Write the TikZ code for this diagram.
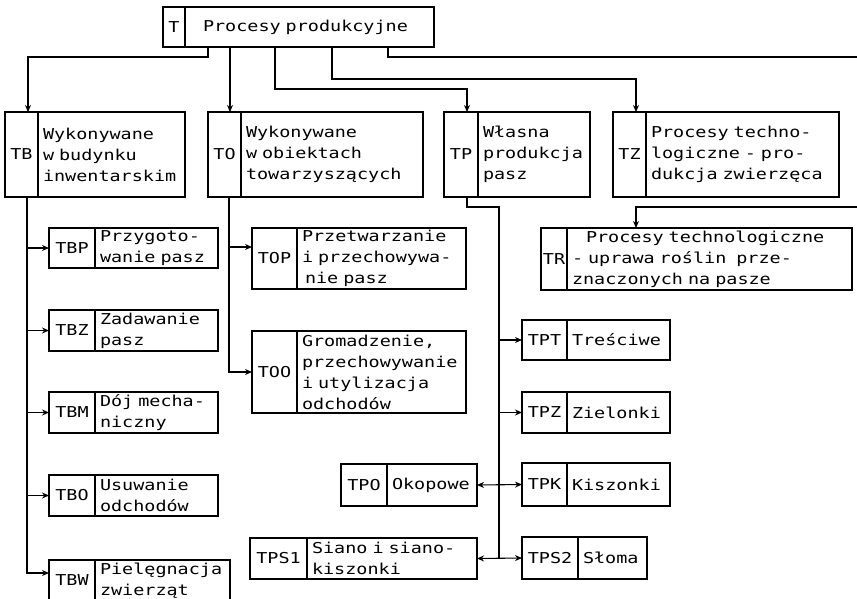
\documentclass[tikz,border=0pt]{standalone}
\usepackage{fontspec}
\newfontfamily\twfont{DejaVu Sans Mono}[FakeStretch=1.23]
\newcommand\twsel{\twfont\fontsize{15}{21}\selectfont\spaceskip=11.1pt\relax\xspaceskip=11.1pt\relax}
\usetikzlibrary{arrows.meta,calc}
\newcommand\bx[8]{%
 \pgfmathsetmacro\bxcw{#3-#2}%
 \pgfmathsetmacro\bxtw{#4-#3-10}%
 \pgfmathsetmacro\bxh{#6-#5}%
 \node[codebox,minimum width=\bxcw pt,minimum height=\bxh pt] (#1c) at (#2,#5) {#7};
 \node[textbox,text width=\bxtw pt,minimum height=\bxh pt] (#1) at (#3,#5) {#8};
}
\tikzset{
 base/.style={draw,line width=1.1pt,anchor=north west,outer sep=0pt,font=\twsel},
 codebox/.style={base,inner sep=0pt,align=center},
 textbox/.style={base,inner xsep=5pt,inner ysep=0pt,align=left},
 conn/.style={line width=1.1pt},
 arr/.style={conn,-{Stealth[length=7pt,width=6pt]}},
 arr2/.style={conn,{Stealth[length=7pt,width=6pt]}-{Stealth[length=7pt,width=6pt]}},
}
\begin{document}
\begin{tikzpicture}[x=1pt,y=-1pt]
\fill[white] (0,0) rectangle (857,598);
\useasboundingbox (0,0) rectangle (857,598);
\clip (0,0) rectangle (857,598);
% boxes
\bx{T}{163}{185}{434}{7}{47}{T}{\hspace*{13pt}Procesy produkcyjne}
\bx{TB}{5}{38}{185}{112}{197}{TB}{Wykonywane\\w budynku\\inwentarskim}
\bx{TO}{208}{241}{423}{112}{197}{TO}{Wykonywane\\w obiektach\\towarzyszących}
\bx{TP}{444}{478}{590}{112}{197}{TP}{Własna\\produkcja\\pasz}
\bx{TZ}{613}{646}{839}{112}{197}{TZ}{Procesy techno-\\logiczne - pro-\\dukcja zwierzęca}
\bx{TR}{541}{567}{852}{228}{290}{TR}{\hspace*{14pt}Procesy technologiczne\\- uprawa roślin\ \ prze-\\znaczonych na pasze}
\bx{TBP}{49}{95}{218}{228}{268}{TBP}{Przygoto-\\wanie pasz}
\bx{TBZ}{49}{95}{218}{310}{351}{TBZ}{Zadawanie\\pasz}
\bx{TBM}{49}{95}{218}{392}{433}{TBM}{Dój mecha-\\niczny}
\bx{TBO}{49}{95}{218}{475}{516}{TBO}{Usuwanie\\odchodów}
\bx{TBW}{49}{95}{230}{560}{601}{TBW}{Pielęgnacja\\zwierząt}
\bx{TOP}{252}{297}{466}{228}{289}{TOP}{Przetwarzanie\\i przechowywa-\\\hspace*{3pt}nie pasz}
\bx{TOO}{252}{297}{466}{331}{413}{TOO}{Gromadzenie,\\przechowywanie\\i utylizacja\\odchodów}
\bx{TPT}{522}{567}{670}{320}{360}{TPT}{Treściwe}
\bx{TPZ}{522}{567}{670}{392}{433}{TPZ}{Zielonki}
\bx{TPK}{522}{567}{670}{463}{506}{TPK}{Kiszonki}
\bx{TPS2}{522}{578}{647}{537}{579}{TPS2}{Słoma}
\bx{TPO}{341}{387}{477}{464}{506}{TPO}{Okopowe}
\bx{TPS1}{250}{307}{477}{538}{579}{TPS1}{Siano i siano-\\kiszonki}
% top connectors
\coordinate (e1) at (857,57);
\coordinate (e2) at (857,207);
\draw[arr] ([xshift=23pt]T.south west) -- ++(0,10) -| ([xshift=23pt]TBc.north west);
\draw[arr] ([xshift=45pt]T.south west) -- ([xshift=22pt]TOc.north west);
\draw[arr] ([xshift=90pt]T.south west) -- ++(0,42) -| ([xshift=23pt]TPc.north west);
\draw[arr] ([xshift=147pt]T.south west) -- ++(0,32) -| ([xshift=23pt]TZc.north west);
\draw[conn] ([xshift=203pt]T.south west) |- (e1);
\draw[arr] (e2) -| ([xshift=69pt]TR.north west);
% TB trunk
\coordinate (tb) at ([xshift=22pt]TBc.south west);
\coordinate (tbw) at ([yshift=7.5pt]TBWc.west);
\draw[arr] (tb) |- (tbw);
\draw[arr] (tb |- TBPc.west) -- (TBPc.west);
\draw[arr] (tb |- TBZc.west) -- (TBZc.west);
\draw[arr] (tb |- TBMc.west) -- (TBMc.west);
\draw[arr] (tb |- TBOc.west) -- (TBOc.west);
% TO trunk
\coordinate (to) at ([xshift=21pt]TOc.south west);
\coordinate (topin) at ([yshift=11.5pt]TOPc.west);
\draw[arr] (to) |- (TOOc.west);
\draw[arr] (to |- topin) -- (topin);
% TP trunk
\coordinate (tpj) at ([xshift=23pt]TPc.south west);
\coordinate (tpv) at ($(TPc.south west)+(55,10)$);
\draw[conn] (tpj) |- (tpv) -- (tpv |- TPS2c.west);
\draw[arr] (tpv |- TPTc.west) -- (TPTc.west);
\draw[arr] (tpv |- TPZc.west) -- (TPZc.west);
\draw[arr2] (TPO.east) -- (TPKc.west);
\draw[arr2] (TPS1.east) -- (TPS2c.west);
\end{tikzpicture}
\end{document}
